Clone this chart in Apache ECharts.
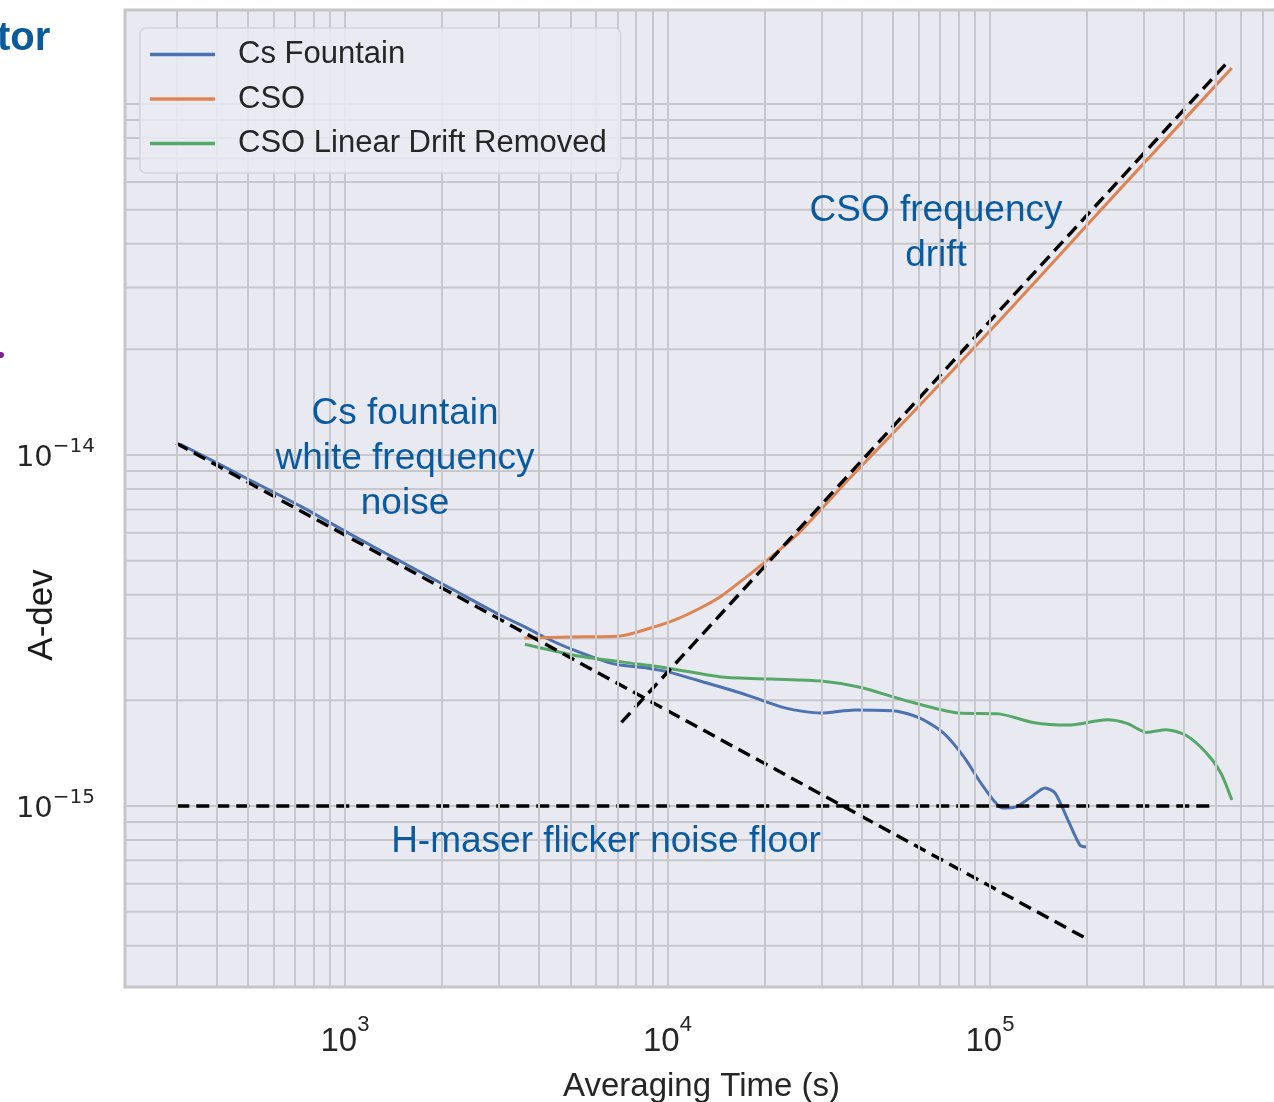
<!DOCTYPE html>
<html>
<head>
<meta charset="utf-8">
<script src="https://cdn.jsdelivr.net/npm/echarts@6/dist/echarts.min.js"></script>
<style>
  html, body { margin: 0; padding: 0; background: #ffffff; }
  #chart { width: 1274px; height: 1102px; }
</style>
</head>
<body>
<div id="chart"></div>
<script>
// Allan deviation vs averaging time (log-log)
const csFountainTau = [308, 507, 725, 1036, 1481, 2117, 3025, 3614, 4140, 5130, 6825, 8700, 10040, 13260, 17640, 23300, 29920, 38110, 50730, 60660, 71970, 83000, 95800, 109700, 120400, 134000, 148200, 159100, 174600, 190200, 200000];
const csFountainAdev = [1.075e-14, 8.49e-15, 7.16e-15, 5.96e-15, 4.99e-15, 4.18e-15, 3.50e-15, 3.24e-15, 3.03e-15, 2.78e-15, 2.54e-15, 2.47e-15, 2.41e-15, 2.24e-15, 2.07e-15, 1.90e-15, 1.84e-15, 1.877e-15, 1.865e-15, 1.78e-15, 1.61e-15, 1.38e-15, 1.13e-15, 9.87e-16, 9.94e-16, 1.06e-15, 1.125e-15, 1.089e-15, 9.12e-16, 7.74e-16, 7.64e-16];

const csoTau = [3600, 5000, 7120, 8830, 10550, 12610, 14550, 17400, 20790, 25740, 36800, 52600, 107400, 219300, 562300];
const csoAdev = [3.01e-15, 3.03e-15, 3.05e-15, 3.21e-15, 3.39e-15, 3.66e-15, 3.94e-15, 4.46e-15, 5.09e-15, 6.04e-15, 8.60e-15, 1.21e-14, 2.42e-14, 4.96e-14, 1.267e-13];

const csoDetrendTau = [3614, 5130, 7277, 10040, 14760, 20940, 29920, 39530, 54500, 80100, 106600, 135900, 174600, 230600, 266000, 306800, 351400, 405300, 467500, 520300, 562300];
const csoDetrendAdev = [2.89e-15, 2.69e-15, 2.57e-15, 2.47e-15, 2.33e-15, 2.30e-15, 2.27e-15, 2.18e-15, 2.00e-15, 1.84e-15, 1.83e-15, 1.73e-15, 1.70e-15, 1.76e-15, 1.72e-15, 1.62e-15, 1.65e-15, 1.59e-15, 1.42e-15, 1.24e-15, 1.04e-15];

// Reference slopes: white FM (tau^-1/2), linear drift (tau^1), maser flicker floor
const whiteFmTau = [300, 200000];
const whiteFmAdev = [1.08e-14, 4.18e-16];
const driftTau = [7200, 547000];
const driftAdev = [1.73e-15, 1.32e-13];
const floorTau = [300, 500000];
const floorAdev = [1e-15, 1e-15];

// Axis ranges
const X_MIN = 208, X_MAX = 782000;
const Y_MIN = 3.05e-16, Y_MAX = 1.853e-13;

// Log grid lines (decades and 2..9 steps)
const xGridValues = [300, 400, 500, 600, 700, 800, 900, 1000, 2000, 3000, 4000, 5000, 6000, 7000, 8000, 9000, 10000, 20000, 30000, 40000, 50000, 60000, 70000, 80000, 90000, 100000, 200000, 300000, 400000, 500000, 600000, 700000];
const yGridValues = [4e-16, 5e-16, 6e-16, 7e-16, 8e-16, 9e-16, 1e-15, 2e-15, 3e-15, 4e-15, 5e-15, 6e-15, 7e-15, 8e-15, 9e-15, 1e-14, 2e-14, 3e-14, 4e-14, 5e-14, 6e-14, 7e-14, 8e-14, 9e-14, 1e-13];

// Decades that carry a tick label
const xLabelExponents = [3, 4, 5];
const yLabelExponents = [-15, -14];

const seriesNames = ['Cs Fountain', 'CSO', 'CSO Linear Drift Removed'];
const seriesColors = ['#4c72b0', '#dd8452', '#55a868'];

const zip = (xs, ys) => xs.map((x, i) => [x, ys[i]]);
const SANS = '"Liberation Sans", Arial, sans-serif';
const NARROW = '"Liberation Sans Narrow", "Liberation Sans", Arial, sans-serif';
const ANNOT = '#0a5a9f';

function powerLabel(allowed) {
  return function (v) {
    const e = Math.log10(v);
    const r = Math.round(e);
    if (Math.abs(e - r) > 1e-6 || allowed.indexOf(r) < 0) return '';
    return '{b|10}{s|' + String(r).replace('-', '\u2212') + '}';
  };
}

const chart = echarts.init(document.getElementById('chart'), null, { renderer: 'canvas' });

const gridLineStyle = { color: '#c8c8cc', width: 2, type: 'solid' };

// horizontal grid lines as broken segments spanning the x range
const hGridData = [];
yGridValues.forEach(v => { hGridData.push([X_MIN, v], [X_MAX, v], ['-', '-']); });

const dashStyle = { width: 3.4, color: '#000000', type: [13, 7] };

const option = {
  animation: false,
  backgroundColor: '#ffffff',
  grid: {
    left: 125, top: 10, right: -4, bottom: 115,
    outerBoundsMode: 'none', containLabel: false,
    show: true, backgroundColor: '#e9e9f1', borderColor: '#c6c6c8', borderWidth: 3
  },
  legend: {
    data: seriesNames,
    orient: 'vertical',
    left: 140, top: 28, z: 10,
    padding: [11, 14, 14, 10],
    icon: 'rect',
    itemWidth: 65, itemHeight: 3.5, itemGap: 13.5,
    backgroundColor: 'rgba(234,234,242,0.85)',
    borderColor: '#d3d3d8', borderWidth: 1.5, borderRadius: 6,
    formatter: name => '{t|' + name + '}',
    textStyle: {
      color: '#262626', fontSize: 31, fontFamily: SANS, lineHeight: 31,
      rich: { t: { fontSize: 31, fontFamily: SANS, color: '#262626', padding: [0, 0, 0, 18] } }
    }
  },
  xAxis: {
    type: 'log', logBase: 10, min: X_MIN, max: X_MAX,
    name: 'Averaging Time (s)', nameLocation: 'middle', nameGap: 83, nameMoveOverlap: false,
    nameTextStyle: { fontSize: 33, fontFamily: SANS, color: '#262626' },
    axisLine: { show: false }, axisTick: { show: false },
    splitLine: { show: false }, minorSplitLine: { show: false },
    axisLabel: {
      margin: 27, formatter: powerLabel(xLabelExponents), showMinLabel: false, showMaxLabel: false,
      rich: {
        b: { fontSize: 33, fontFamily: NARROW, color: '#262626', lineHeight: 56 },
        s: { fontSize: 22, fontFamily: NARROW, color: '#262626', verticalAlign: 'top', lineHeight: 24 }
      }
    }
  },
  yAxis: {
    type: 'log', logBase: 10, min: Y_MIN, max: Y_MAX,
    axisLine: { show: false }, axisTick: { show: false },
    splitLine: { show: false }, minorSplitLine: { show: false },
    axisLabel: {
      margin: 30, formatter: powerLabel(yLabelExponents), showMinLabel: false, showMaxLabel: false,
      rich: {
        b: { fontSize: 29, fontFamily: '"DejaVu Sans", sans-serif', color: '#262626', lineHeight: 36, padding: [6, 0, 0, 0] },
        s: { fontSize: 20, fontFamily: '"DejaVu Sans", sans-serif', color: '#262626', verticalAlign: 'top', lineHeight: 20 }
      }
    }
  },
  graphic: [
    { type: 'text', x: -3, y: 39, style: { text: 'tor', fontSize: 40, fontWeight: 'bold', fontFamily: SANS, fill: '#0b5a9c', align: 'left', verticalAlign: 'middle' } },
    { type: 'circle', shape: { cx: 1, cy: 355, r: 3 }, style: { fill: '#7b2489' } },
    // y-axis title
    { type: 'text', x: 42, y: 615, rotation: Math.PI / 2, style: { text: 'A-dev', fontSize: 35, fontFamily: SANS, fill: '#1a1a1a', align: 'center', verticalAlign: 'middle' } },
    { type: 'text', x: 405, y: 391, z: 10, style: { text: 'Cs fountain\nwhite frequency\nnoise', fontSize: 37, lineHeight: 45, fontFamily: SANS, fill: ANNOT, align: 'center', verticalAlign: 'top' } },
    { type: 'text', x: 936, y: 188, z: 10, style: { text: 'CSO frequency\ndrift', fontSize: 37, lineHeight: 45, fontFamily: SANS, fill: ANNOT, align: 'center', verticalAlign: 'top' } },
    { type: 'text', x: 606, y: 842, z: 10, style: { text: 'H-maser flicker noise floor', fontSize: 37, fontFamily: SANS, fill: ANNOT, align: 'center', verticalAlign: 'middle' } }
  ],
  series: [
    {
      name: 'vgrid', type: 'line', data: [], z: 1, silent: true,
      markLine: {
        silent: true, animation: false, symbol: ['none', 'none'],
        label: { show: false }, lineStyle: gridLineStyle,
        emphasis: { disabled: true },
        data: xGridValues.map(v => ({ xAxis: v }))
      }
    },
    {
      name: 'hgrid', type: 'line', data: hGridData, z: 1, silent: true,
      symbol: 'none', connectNulls: false, lineStyle: gridLineStyle
    },
    {
      name: seriesNames[0], type: 'line', data: zip(csFountainTau, csFountainAdev),
      smooth: 0.25, symbol: 'none', z: 3, color: seriesColors[0],
      lineStyle: { width: 3, color: seriesColors[0] }
    },
    {
      name: seriesNames[1], type: 'line', data: zip(csoTau, csoAdev),
      smooth: 0.25, symbol: 'none', z: 3, color: seriesColors[1],
      lineStyle: { width: 3, color: seriesColors[1] }
    },
    {
      name: seriesNames[2], type: 'line', data: zip(csoDetrendTau, csoDetrendAdev),
      smooth: 0.25, symbol: 'none', z: 3, color: seriesColors[2],
      lineStyle: { width: 3, color: seriesColors[2] }
    },
    { name: 'white FM', type: 'line', data: zip(whiteFmTau, whiteFmAdev), symbol: 'none', z: 4, silent: true, lineStyle: dashStyle },
    { name: 'drift', type: 'line', data: zip(driftTau, driftAdev), symbol: 'none', z: 4, silent: true, lineStyle: dashStyle },
    { name: 'floor', type: 'line', data: zip(floorTau, floorAdev), symbol: 'none', z: 4, silent: true, lineStyle: dashStyle }
  ]
};

chart.setOption(option);
</script>
</body>
</html>
